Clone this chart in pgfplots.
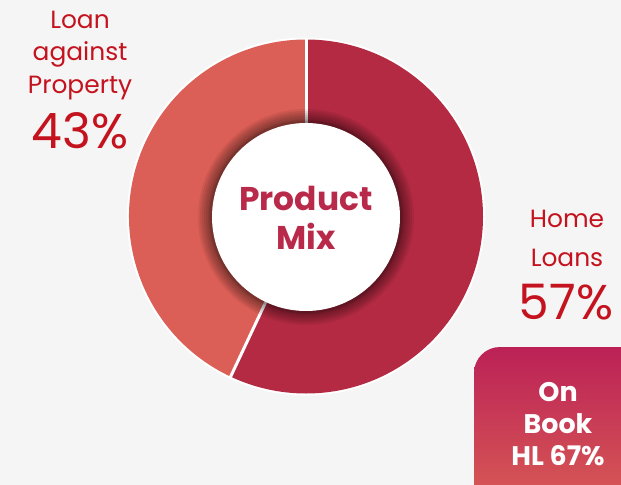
\documentclass[border=0pt]{standalone}
\usepackage{pgfplots}
\usepackage{pgfplotstable}
\pgfplotsset{compat=1.18}
\usepackage{fontspec}
\setmainfont{Poppins}
\definecolor{bg}{HTML}{F5F5F5}
\definecolor{hlc}{HTML}{B42A43}
\definecolor{lapc}{HTML}{DC5F57}
\definecolor{lbl}{HTML}{C4131E}
\definecolor{pm}{HTML}{B8294A}
\definecolor{boxtop}{HTML}{BB2156}
\definecolor{boxbot}{HTML}{DB6055}
\pgfplotstableread{
label share
HL 57
LAP 43
}\mixdata
\pgfplotstablegetelem{0}{share}\of\mixdata
\pgfmathsetmacro{\hlshare}{\pgfplotsretval}
\pgfmathsetmacro{\splitang}{90-3.6*\hlshare}
\begin{document}
\begin{tikzpicture}
\begin{axis}[
  width=621bp, height=485bp, scale only axis,
  hide axis, xmin=0, xmax=621, ymin=0, ymax=485, y dir=reverse,
  clip=true]
\fill[bg] (axis cs:0,0) rectangle (axis cs:621,485);
% slices
\fill[white] (axis cs:306,216.5) circle[radius=179bp];
\fill[hlc] (axis cs:306,216.5) -- ++(90:177bp) arc[start angle=90, end angle=\splitang, radius=177bp] -- cycle;
\fill[lapc] (axis cs:306,216.5) -- ++(\splitang:177bp) arc[start angle=\splitang, end angle=-270, radius=177bp] -- cycle;
\draw[white, line width=3bp] (axis cs:306,216.5) -- ++(90:178bp);
\draw[white, line width=3bp] (axis cs:306,216.5) -- ++(\splitang:178bp);
% shadow of centre
\pgfplotsinvokeforeach{108,106,104,102,100,98,97,96}{
  \fill[black, opacity=0.07] (axis cs:306,217) circle[radius=#1bp];
}
\fill[white] (axis cs:306,217) circle[radius=94bp];
% centre text
\node[anchor=base, text=pm, font=\fontsize{33}{36}\selectfont\bfseries] at (axis cs:306,210) {Product};
\node[anchor=base, text=pm, font=\fontsize{33}{36}\selectfont\bfseries] at (axis cs:306,249) {Mix};
% labels
\node[anchor=base, text=lbl, inner sep=0pt, font=\fontsize{25}{26}\selectfont] at (axis cs:80,29) {Loan};
\node[anchor=base, text=lbl, inner sep=0pt, font=\fontsize{25}{26}\selectfont] at (axis cs:80,61) {against};
\node[anchor=base, text=lbl, inner sep=0pt, font=\fontsize{25}{26}\selectfont] at (axis cs:80,93) {Property};
\node[anchor=base, text=lbl, inner sep=0pt, font=\fontsize{49}{50}\selectfont] at (axis cs:80,148) {43\%};
\node[anchor=base, text=lbl, inner sep=0pt, font=\fontsize{25}{26}\selectfont] at (axis cs:567,227) {Home};
\node[anchor=base, text=lbl, inner sep=0pt, font=\fontsize{25}{26}\selectfont] at (axis cs:567,266) {Loans};
\node[anchor=base, text=lbl, inner sep=0pt, font=\fontsize{49}{50}\selectfont] at (axis cs:566,319) {57\%};
% on book box
\shade[top color=boxtop, bottom color=boxbot, rounded corners=26bp] (axis cs:474,347) rectangle (axis cs:660,520);
\node[anchor=base, text=white, inner sep=0pt, font=\fontsize{27}{28}\selectfont\bfseries] at (axis cs:558,401) {On};
\node[anchor=base, text=white, inner sep=0pt, font=\fontsize{27}{28}\selectfont\bfseries] at (axis cs:558,433) {Book};
\node[anchor=base, text=white, inner sep=0pt, font=\fontsize{27}{28}\selectfont\bfseries] at (axis cs:558,465) {HL 67\%};
\end{axis}
\end{tikzpicture}
\end{document}
